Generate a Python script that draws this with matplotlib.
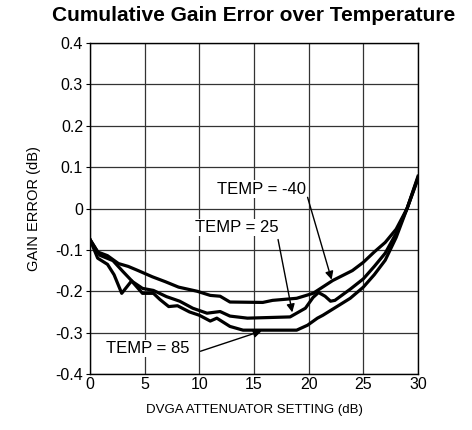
import matplotlib
matplotlib.use("Agg")
import matplotlib.pyplot as plt

plt.rcParams['font.family'] = ['Liberation Sans', 'DejaVu Sans']

# attenuator setting (dB) and gain error (dB)
x_m40 = [0, 0.7, 1.6, 2.6, 3.5, 4.4, 5.7, 6.9, 8.1, 9.8, 11, 11.9, 12.8, 15.8,
         16.7, 18.9, 20.4, 22.2, 24, 25, 26, 27, 28, 29, 30]
y_m40 = [-0.075, -0.105, -0.114, -0.133, -0.14, -0.15, -0.165, -0.177, -0.19, -0.2,
         -0.21, -0.212, -0.226, -0.227, -0.222, -0.217, -0.205, -0.174, -0.15, -0.13,
         -0.105, -0.082, -0.05, 0.0, 0.078]

x_25 = [0, 0.9, 2.1, 3, 3.9, 4.8, 5.8, 7, 8.2, 9.4, 10.7, 11.9, 12.8, 14.4, 18.3,
        18.9, 19.7, 20.4, 20.9, 21.5, 22, 22.4, 23.8, 25, 26, 27, 28, 29, 30]
y_25 = [-0.075, -0.113, -0.126, -0.152, -0.177, -0.193, -0.198, -0.213, -0.224,
        -0.241, -0.253, -0.249, -0.26, -0.265, -0.262, -0.253, -0.241, -0.215, -0.203,
        -0.212, -0.224, -0.222, -0.195, -0.17, -0.14, -0.108, -0.06, 0.0, 0.075]

x_85 = [0, 0.7, 1.6, 2.2, 2.9, 3.8, 4.8, 5.8, 6.4, 7.2, 8, 9.1, 10, 11, 11.6, 12.8,
        14, 18.9, 19.9, 20.8, 21.3, 23.8, 25, 26, 27, 28, 29, 30]
y_85 = [-0.075, -0.12, -0.135, -0.16, -0.205, -0.175, -0.205, -0.205, -0.22, -0.237,
        -0.235, -0.25, -0.258, -0.272, -0.265, -0.285, -0.294, -0.294, -0.282, -0.265,
        -0.258, -0.217, -0.19, -0.16, -0.125, -0.07, 0.0, 0.072]

xticks = [0, 5, 10, 15, 20, 25, 30]
yticks = [-0.4, -0.3, -0.2, -0.1, 0, 0.1, 0.2, 0.3, 0.4]
ytick_labels = ['-0.4', '-0.3', '-0.2', '-0.1', '0', '0.1', '0.2', '0.3', '0.4']

fig = plt.figure(figsize=(4.72, 4.30), dpi=100)
ax = fig.add_axes([0.1907, 0.1302, 0.6949, 0.7698])

for xs, ys in [(x_m40, y_m40), (x_25, y_25), (x_85, y_85)]:
    ax.plot(xs, ys, color='black', lw=2.3, solid_joinstyle='round', zorder=3)

ax.set_xlim(0, 30)
ax.set_ylim(-0.4, 0.4)
ax.set_xticks(xticks)
ax.set_yticks(yticks)
ax.set_yticklabels(ytick_labels)
ax.grid(True, color='#333333', lw=0.9)
ax.tick_params(axis='y', length=3, width=0.8, labelsize=11.5, pad=2)
ax.tick_params(axis='x', length=0, labelsize=11.5, pad=2)
for s in ax.spines.values():
    s.set_linewidth(1.0)

ax.set_title('Cumulative Gain Error over Temperature', fontsize=15,
             fontweight='bold', pad=16)
ax.set_xlabel('DVGA ATTENUATOR SETTING (dB)', fontsize=9.5, labelpad=9)
ax.set_ylabel('GAIN ERROR (dB)', fontsize=10.5, labelpad=10)

box = dict(facecolor='white', edgecolor='none', pad=1)
arrow = dict(arrowstyle='-|>', color='black', lw=1.0, mutation_scale=12,
             shrinkA=0, shrinkB=0)
ax.text(15.7, 0.047, 'TEMP = -40', fontsize=12, ha='center', va='center',
        bbox=box, zorder=4)
ax.annotate('', xy=(22.1, -0.172), xytext=(19.9, 0.027), arrowprops=arrow, zorder=4)
ax.text(13.4, -0.046, 'TEMP = 25', fontsize=12, ha='center', va='center',
        bbox=box, zorder=4)
ax.annotate('', xy=(18.5, -0.251), xytext=(17.2, -0.075), arrowprops=arrow, zorder=4)
ax.text(5.3, -0.338, 'TEMP = 85', fontsize=12, ha='center', va='center',
        bbox=box, zorder=4)
ax.annotate('', xy=(15.7, -0.296), xytext=(10.1, -0.345), arrowprops=arrow, zorder=4)

fig.savefig('out.png', dpi=100)
